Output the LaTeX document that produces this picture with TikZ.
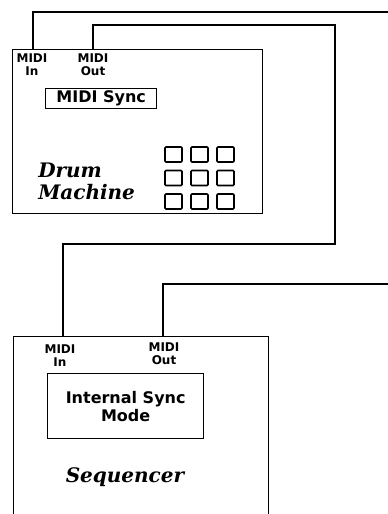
\documentclass[tikz,border=0pt]{standalone}
\usepackage{fontspec}
\setsansfont{DejaVu Sans}
\newfontfamily\namefont{DejaVu Serif}
\usetikzlibrary{positioning}

\tikzset{
  unit/.style={draw, line width=1pt, anchor=north west, inner sep=0pt},
  port/.style={font=\sffamily\bfseries\fontsize{9}{9.75}\selectfont, align=center, inner sep=0pt, anchor=north},
  panel/.style={draw, line width=1pt, anchor=north west, inner sep=0pt, font=\sffamily\bfseries\fontsize{12}{13.5}\selectfont, align=center},
  devname/.style={font=\namefont\bfseries\itshape\fontsize{15}{16.5}\selectfont, align=left, inner sep=0pt},
  pad/.style={draw, line width=1.2pt, rounded corners=0.8pt},
  cable/.style={line width=1pt}
}

\begin{document}
\begin{tikzpicture}[x=0.75pt, y=-0.75pt]
  \clip (0,0) rectangle (388,514);
  % drum machine
  \node[unit, minimum width=187.5pt, minimum height=123pt] (drum) at (12,49) {};
  \coordinate (drumIn) at (33,49);
  \coordinate (drumOut) at (93,49);
  \node[port] (drumInLbl) at (32,53) {MIDI\\In};
  \node[port] (drumOutLbl) at (93,53) {MIDI\\Out};
  \node[panel, minimum width=83.25pt, minimum height=15pt] (sync) at (45,88) {MIDI Sync};
  \node[devname, anchor=west] (drumName) at (38,181) {Drum\\Machine};
  \foreach \r in {0,1,2} \foreach \c in {0,1,2}
    \draw[pad] (165+\c*26,147+\r*23.5) rectangle ++(17,15);
  % sequencer
  \node[unit, minimum width=191.25pt, minimum height=150pt] (seq) at (13,336) {};
  \coordinate (seqIn) at (63,336);
  \coordinate (seqOut) at (163,336);
  \node[port] (seqInLbl) at (60,344) {MIDI\\In};
  \node[port] (seqOutLbl) at (164,342) {MIDI\\Out};
  \node[panel, minimum width=117pt, minimum height=48.75pt] (mode) at (47,373) {Internal Sync\\Mode};
  \node[devname] (seqName) at (125,477) {Sequencer};
  % midi cables
  \coordinate (toA) at (388,12);
  \coordinate (toB) at (388,284);
  \draw[cable] (drumIn) |- (toA);
  \draw[cable] (drumOut) |- (335,25) |- (63,244) -- (seqIn);
  \draw[cable] (seqOut) |- (toB);
\end{tikzpicture}
\end{document}
